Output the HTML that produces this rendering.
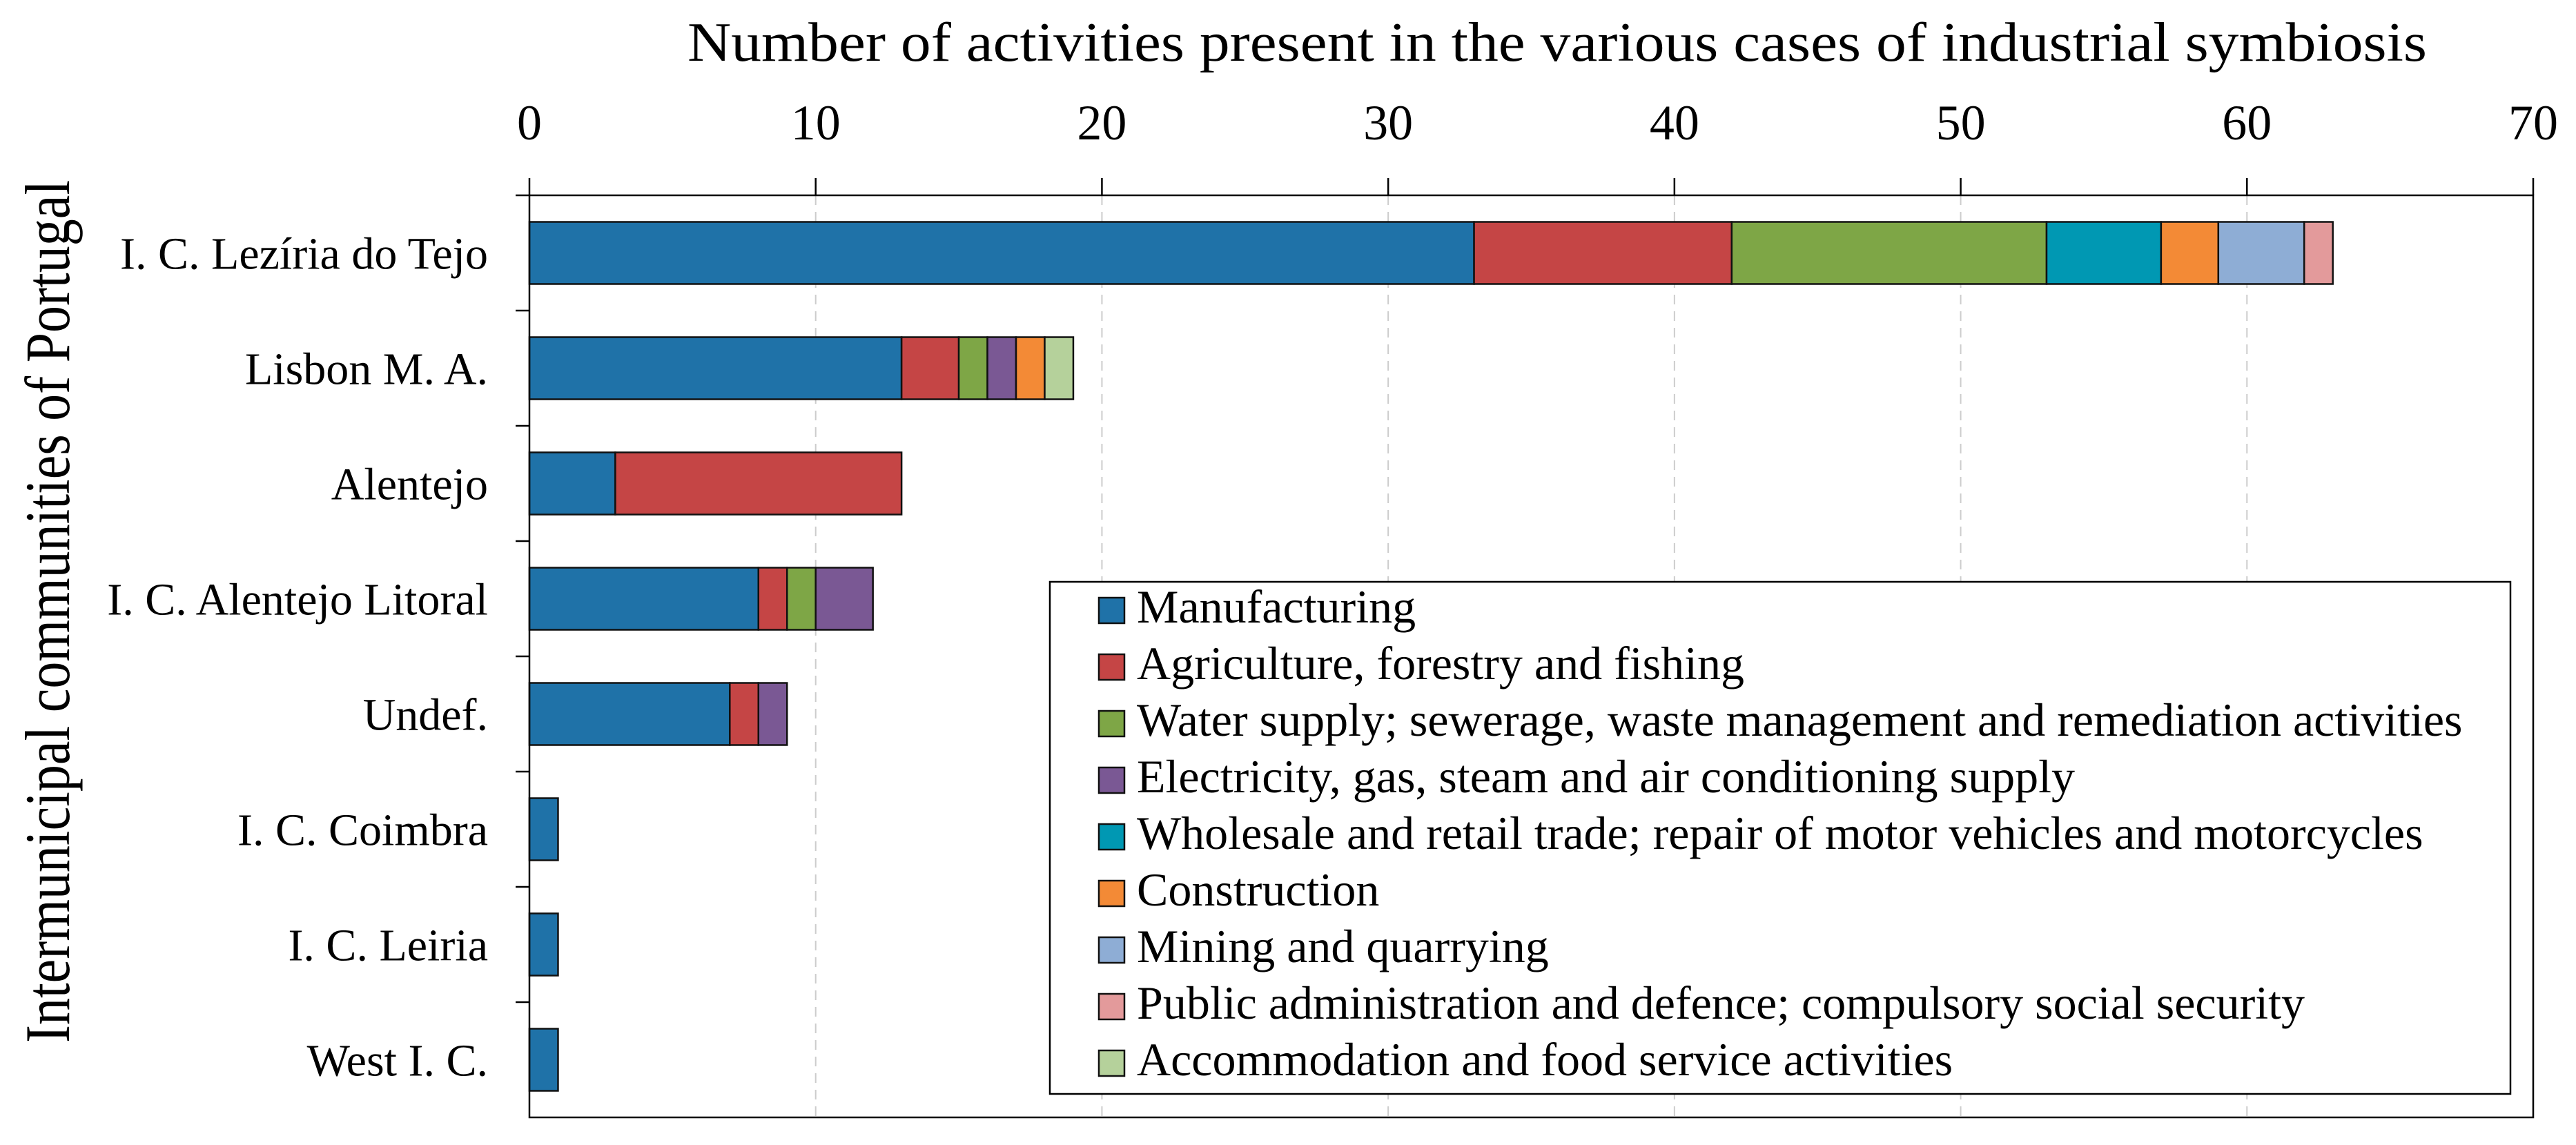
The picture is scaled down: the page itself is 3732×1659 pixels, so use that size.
<!DOCTYPE html>
<html><head><meta charset="utf-8"><style>
html,body{margin:0;padding:0;background:#fff;}
svg{display:block;font-family:"Liberation Serif",serif;}
</style></head><body>
<svg id="chart" width="3732" height="1659" viewBox="0 0 3732 1659" xmlns="http://www.w3.org/2000/svg">
<text x="2256" y="88" font-size="80" text-anchor="middle" textLength="2520" lengthAdjust="spacingAndGlyphs">Number of  activities present in the various cases of industrial symbiosis</text>
<text transform="translate(100,886) rotate(-90)" font-size="92" text-anchor="middle" textLength="1250" lengthAdjust="spacingAndGlyphs">Intermunicipal communities of Portugal</text>
<g id="grid"></g>
<g id="bars"></g>
<g id="axes"></g>
<g id="legend"></g>
</svg>
<script>
const categories = ["I. C. Lezíria do Tejo","Lisbon M. A.","Alentejo","I. C. Alentejo Litoral","Undef.","I. C. Coimbra","I. C. Leiria","West I. C."];
const seriesNames = ["Manufacturing","Agriculture, forestry and fishing","Water supply; sewerage, waste management and remediation activities","Electricity, gas, steam and air conditioning supply","Wholesale and retail trade; repair of motor vehicles and motorcycles","Construction","Mining and quarrying","Public administration and defence; compulsory social security","Accommodation and food service activities"];
const colors = ["#1f72a8","#c54545","#7ea646","#7a5894","#0098b3","#f38a36","#8eadd5","#e39a9b","#b5d19b"];
const manufacturing = [33,13,3,8,7,1,1,1];
const agriculture   = [9,2,10,1,1,0,0,0];
const water         = [11,1,0,1,0,0,0,0];
const electricity   = [0,1,0,2,1,0,0,0];
const wholesale     = [4,0,0,0,0,0,0,0];
const construction  = [2,1,0,0,0,0,0,0];
const mining        = [3,0,0,0,0,0,0,0];
const publicAdmin   = [1,0,0,0,0,0,0,0];
const accommodation = [0,1,0,0,0,0,0,0];
const series = [manufacturing,agriculture,water,electricity,wholesale,construction,mining,publicAdmin,accommodation];
const xTicks = [0,10,20,30,40,50,60,70];

const NS="http://www.w3.org/2000/svg";
const X0=767, X1=3670, XMAX=70, Y0=283, BAND=167, BH=90;
const xs = v => X0 + (X1-X0)*v/XMAX;
const yc = i => Y0 + BAND*(i+0.5);
function mk(tag, attrs, parent){const e=document.createElementNS(NS,tag);for(const k in attrs)e.setAttribute(k,attrs[k]);parent.appendChild(e);return e;}
const grid=document.getElementById('grid'), bars=document.getElementById('bars'), axes=document.getElementById('axes'), leg=document.getElementById('legend');

xTicks.forEach(t=>{
  if(t>0 && t<XMAX){
    const g=mk('line',{x1:xs(t),x2:xs(t),y1:Y0,y2:Y0+BAND*categories.length,stroke:'#ccc','stroke-width':2,'stroke-dasharray':'14,10'},grid);
    
    
  }
  const tk=mk('line',{x1:xs(t),x2:xs(t),y1:Y0-25,y2:Y0,stroke:'#000','stroke-width':2.5},axes);
  
  
  const lb=mk('text',{x:xs(t),y:202,'font-size':72,'text-anchor':'middle'},axes);
  lb.textContent=t;
  
  
});

categories.forEach((c,i)=>{
  let acc=0;
  series.forEach((s,k)=>{
    const v=s[i]; if(!v) return;
    const r=mk('rect',{x:xs(acc),y:yc(i)-BH/2,width:xs(acc+v)-xs(acc),height:BH,fill:colors[k],stroke:'#111','stroke-width':2.5},bars);
    
    
    acc+=v;
  });
  const lb=mk('text',{x:707,y:yc(i)+23,'font-size':66,'text-anchor':'end'},axes);
  lb.textContent=c;
  
  
  if(i>0){
    const tk=mk('line',{x1:X0-20,x2:X0,y1:Y0+BAND*i,y2:Y0+BAND*i,stroke:'#000','stroke-width':2.5},axes);
    
    
  }
});
const fr=mk('rect',{x:X0,y:Y0,width:X1-X0,height:BAND*categories.length,fill:'none',stroke:'#000','stroke-width':2.5},axes);


const tl=mk('line',{x1:X0-20,x2:X0,y1:Y0,y2:Y0,stroke:'#000','stroke-width':2.5},axes);



const lb=mk('rect',{x:1521,y:843,width:2116,height:742,fill:'#fff',stroke:'#000','stroke-width':2.5},leg);


seriesNames.forEach((n,k)=>{
  const y=866+82*k;
  const sw=mk('rect',{x:1592,y:y,width:37,height:37,fill:colors[k],stroke:'#111','stroke-width':2.5},leg);
  
  
  const t=mk('text',{x:1647,y:y+36,'font-size':68},leg);
  t.textContent=n;
  
  
});
</script>
</body></html>
